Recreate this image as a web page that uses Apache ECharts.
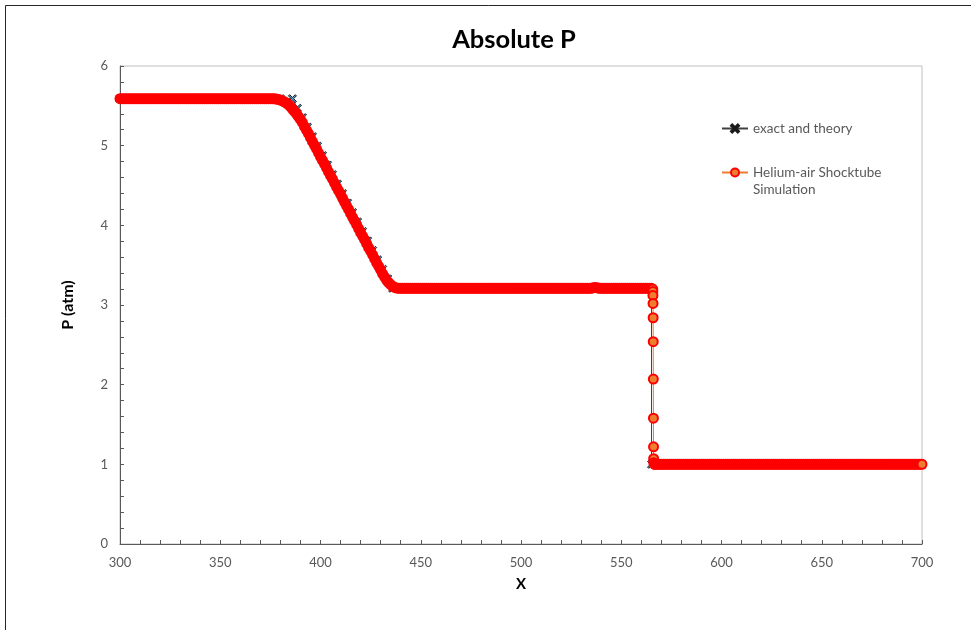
<!DOCTYPE html>
<html>
<head>
<meta charset="utf-8">
<script src="https://cdn.jsdelivr.net/npm/echarts@6/dist/echarts.min.js"></script>
<style>html,body{margin:0;padding:0;background:#fff;}#c{width:971px;height:630px;}</style>
</head>
<body>
<div id="c"></div>
<script>
const chartTitle = 'Absolute P';
const xName = 'X';
const yName = 'P (atm)';
const exactName = 'exact and theory';
const simName = 'Helium-air Shocktube Simulation';

// exact and theory: [X, P]
const exactData = [
[300,5.59],[310,5.59],[320,5.59],[330,5.59],[340,5.59],[350,5.59],[360,5.59],[370,5.59],[380,5.59],[386,5.59],
[388.5,5.471],[391,5.352],[393.5,5.233],[396,5.114],[398.5,4.995],[401,4.876],[403.5,4.757],[406,4.638],[408.5,4.519],[411,4.40],
[413.5,4.281],[416,4.162],[418.5,4.043],[421,3.924],[423.5,3.805],[426,3.686],[428.5,3.567],[431,3.448],[433.5,3.329],[436,3.21],
[445,3.21],[455,3.21],[465,3.21],[475,3.21],[485,3.21],[495,3.21],[505,3.21],[515,3.21],[525,3.21],[535,3.21],[545,3.21],[555,3.21],[565.1,3.21],
[565.1,1.0],[575,1.0],[585,1.0],[595,1.0],[605,1.0],[615,1.0],[625,1.0],[635,1.0],[645,1.0],[655,1.0],[665,1.0],[675,1.0],[685,1.0],[695,1.0],[700,1.0]
];

// Helium-air Shocktube Simulation: [X, P]
const simHigh = [
[300,5.59],[301,5.59],[302,5.59],[303,5.59],[304,5.59],[305,5.59],[306,5.59],[307,5.59],[308,5.59],[309,5.59],
[310,5.59],[311,5.59],[312,5.59],[313,5.59],[314,5.59],[315,5.59],[316,5.59],[317,5.59],[318,5.59],[319,5.59],
[320,5.59],[321,5.59],[322,5.59],[323,5.59],[324,5.59],[325,5.59],[326,5.59],[327,5.59],[328,5.59],[329,5.59],
[330,5.59],[331,5.59],[332,5.59],[333,5.59],[334,5.59],[335,5.59],[336,5.59],[337,5.59],[338,5.59],[339,5.59],
[340,5.59],[341,5.59],[342,5.59],[343,5.59],[344,5.59],[345,5.59],[346,5.59],[347,5.59],[348,5.59],[349,5.59],
[350,5.59],[351,5.59],[352,5.59],[353,5.59],[354,5.59],[355,5.59],[356,5.59],[357,5.59],[358,5.59],[359,5.59],
[360,5.59],[361,5.59],[362,5.59],[363,5.59],[364,5.59],[365,5.59],[366,5.59],[367,5.59],[368,5.59],[369,5.59],
[370,5.59],[371,5.59],[372,5.59],[373,5.59],[374,5.59],[375,5.59]
];
const simFan = [
[376,5.59],[377,5.588],[378,5.585],[379,5.58],[380,5.572],[381,5.562],[382,5.55],[383,5.535],[384,5.515],[385,5.49],
[386,5.46],[387,5.43],[388,5.40],[389,5.365],[390,5.33],[391,5.29],[392,5.24],[393,5.195],[394,5.15],[395,5.10],
[396,5.05],[397,5.005],[398,4.96],[399,4.91],[400,4.86],[401,4.815],[402,4.77],[403,4.72],[404,4.67],[405,4.625],
[406,4.58],[407,4.53],[408,4.48],[409,4.435],[410,4.39],[411,4.34],[412,4.29],[413,4.245],[414,4.20],[415,4.15],
[416,4.10],[417,4.055],[418,4.01],[419,3.96],[420,3.91],[421,3.865],[422,3.82],[423,3.77],[424,3.72],[425,3.675],
[426,3.63],[427,3.58],[428,3.53],[429,3.485],[430,3.44],[431,3.39],[432,3.35],[433,3.31],[434,3.28],[435,3.255],
[436,3.235],[437,3.22],[438,3.212]
];
const simMid = [
[439,3.21],[440,3.21],[441,3.21],[442,3.21],[443,3.21],[444,3.21],[445,3.21],[446,3.21],[447,3.21],
[448,3.21],[449,3.21],[450,3.21],[451,3.21],[452,3.21],[453,3.21],[454,3.21],[455,3.21],[456,3.21],[457,3.21],
[458,3.21],[459,3.21],[460,3.21],[461,3.21],[462,3.21],[463,3.21],[464,3.21],[465,3.21],[466,3.21],[467,3.21],
[468,3.21],[469,3.21],[470,3.21],[471,3.21],[472,3.21],[473,3.21],[474,3.21],[475,3.21],[476,3.21],[477,3.21],
[478,3.21],[479,3.21],[480,3.21],[481,3.21],[482,3.21],[483,3.21],[484,3.21],[485,3.21],[486,3.21],[487,3.21],
[488,3.21],[489,3.21],[490,3.21],[491,3.21],[492,3.21],[493,3.21],[494,3.21],[495,3.21],[496,3.21],[497,3.21],
[498,3.21],[499,3.21],[500,3.21],[501,3.21],[502,3.21],[503,3.21],[504,3.21],[505,3.21],[506,3.21],[507,3.21],
[508,3.21],[509,3.21],[510,3.21],[511,3.21],[512,3.21],[513,3.21],[514,3.21],[515,3.21],[516,3.21],[517,3.21],
[518,3.21],[519,3.21],[520,3.21],[521,3.21],[522,3.21],[523,3.21],[524,3.21],[525,3.21],[526,3.21],[527,3.21],
[528,3.21],[529,3.21],[530,3.21],[531,3.21],[532,3.21],[533,3.21],[534,3.21],[535,3.21],[536,3.215],[537,3.22],
[538,3.215],[539,3.21],[540,3.21],[541,3.21],[542,3.21],[543,3.21],[544,3.21],[545,3.21],[546,3.21],[547,3.21],
[548,3.21],[549,3.21],[550,3.21],[551,3.21],[552,3.21],[553,3.21],[554,3.21],[555,3.21],[556,3.21],[557,3.21],
[558,3.21],[559,3.21],[560,3.21],[561,3.21],[562,3.21],[563,3.21],[564,3.21],[565,3.21]
];
const simShock = [
[565.7,3.20],[565.75,3.17],[565.8,3.12],[565.85,3.02],[565.9,2.84],[565.95,2.54],[566,2.07],[566.05,1.58],[566.1,1.22],[566.15,1.07],[566.2,1.02]
];
const simLow = [
[566.6,1.0],[567,1.0],[568,1.0],[569,1.0],[570,1.0],[571,1.0],[572,1.0],[573,1.0],[574,1.0],[575,1.0],
[576,1.0],[577,1.0],[578,1.0],[579,1.0],[580,1.0],[581,1.0],[582,1.0],[583,1.0],[584,1.0],[585,1.0],
[586,1.0],[587,1.0],[588,1.0],[589,1.0],[590,1.0],[591,1.0],[592,1.0],[593,1.0],[594,1.0],[595,1.0],
[596,1.0],[597,1.0],[598,1.0],[599,1.0],[600,1.0],[601,1.0],[602,1.0],[603,1.0],[604,1.0],[605,1.0],
[606,1.0],[607,1.0],[608,1.0],[609,1.0],[610,1.0],[611,1.0],[612,1.0],[613,1.0],[614,1.0],[615,1.0],
[616,1.0],[617,1.0],[618,1.0],[619,1.0],[620,1.0],[621,1.0],[622,1.0],[623,1.0],[624,1.0],[625,1.0],
[626,1.0],[627,1.0],[628,1.0],[629,1.0],[630,1.0],[631,1.0],[632,1.0],[633,1.0],[634,1.0],[635,1.0],
[636,1.0],[637,1.0],[638,1.0],[639,1.0],[640,1.0],[641,1.0],[642,1.0],[643,1.0],[644,1.0],[645,1.0],
[646,1.0],[647,1.0],[648,1.0],[649,1.0],[650,1.0],[651,1.0],[652,1.0],[653,1.0],[654,1.0],[655,1.0],
[656,1.0],[657,1.0],[658,1.0],[659,1.0],[660,1.0],[661,1.0],[662,1.0],[663,1.0],[664,1.0],[665,1.0],
[666,1.0],[667,1.0],[668,1.0],[669,1.0],[670,1.0],[671,1.0],[672,1.0],[673,1.0],[674,1.0],[675,1.0],
[676,1.0],[677,1.0],[678,1.0],[679,1.0],[680,1.0],[681,1.0],[682,1.0],[683,1.0],[684,1.0],[685,1.0],
[686,1.0],[687,1.0],[688,1.0],[689,1.0],[690,1.0],[691,1.0],[692,1.0],[693,1.0],[694,1.0],[695,1.0],
[696,1.0],[697,1.0],[698,1.0],[699,1.0],[700,1.0]
];
const simData = simHigh.concat(simFan, simMid, simShock, simLow);
// indices whose markers stand apart (not buried in the dense band)
const shockStart = simHigh.length + simFan.length + simMid.length;
const shockEnd = shockStart + simShock.length;
const lastIdx = simData.length - 1;

const ORANGE = '#ED7D31';
const RED = '#FF0000';
const FONT = 'Lato, "Open Sans", sans-serif';
const xMark = 'path://M0,1.5 L1.5,0 L5,3.5 L8.5,0 L10,1.5 L6.5,5 L10,8.5 L8.5,10 L5,6.5 L1.5,10 L0,8.5 L3.5,5 Z';

const chart = echarts.init(document.getElementById('c'), null, {renderer: 'canvas'});
chart.setOption({
  animation: false,
  backgroundColor: '#ffffff',
  textStyle: {fontFamily: FONT},
  title: {
    text: chartTitle,
    left: 509,
    textAlign: 'center',
    top: 22,
    textStyle: {fontFamily: FONT, fontSize: 25.5, fontWeight: 'bold', color: '#000000'}
  },
  graphic: [{
    type: 'rect', silent: true, z: -1,
    shape: {x: 5.5, y: 5.5, width: 1000, height: 700},
    style: {fill: 'none', stroke: '#262626', lineWidth: 1}
  }],
  legend: {
    orient: 'vertical',
    left: 716,
    top: 115,
    itemWidth: 26,
    itemHeight: 10,
    itemGap: 10,
    data: [
      {name: exactName},
      {name: simName, itemStyle: {color: ORANGE, borderColor: RED, borderWidth: 2}}
    ],
    formatter: function (n) { return n === simName ? ' \nHelium-air Shocktube\nSimulation' : n; },
    textStyle: {fontFamily: FONT, fontSize: 13.5, color: '#595959', lineHeight: 17}
  },
  grid: {left: 120, right: 49, top: 66, bottom: 86, show: true, borderColor: '#bfbfbf', borderWidth: 1},
  xAxis: {
    type: 'value', min: 300, max: 700, interval: 50,
    name: xName, nameLocation: 'middle', nameGap: 33,
    nameTextStyle: {fontFamily: FONT, fontSize: 15, fontWeight: 'bold', color: '#000'},
    axisLine: {show: true, lineStyle: {color: '#595959', width: 1}},
    axisTick: {show: true, inside: true, length: 4, lineStyle: {color: '#595959'}},
    minorTick: {show: true, splitNumber: 5, length: 4, lineStyle: {color: '#595959'}},
    splitLine: {show: false},
    axisLabel: {color: '#595959', fontSize: 13, margin: 12, fontFamily: FONT}
  },
  yAxis: {
    type: 'value', min: 0, max: 6, interval: 1,
    name: yName, nameLocation: 'middle', nameGap: 44, nameRotate: 90,
    nameTextStyle: {fontFamily: FONT, fontSize: 16, fontWeight: 'bold', color: '#000'},
    axisLine: {show: true, lineStyle: {color: '#595959', width: 1}},
    axisTick: {show: true, inside: true, length: 4, lineStyle: {color: '#595959'}},
    minorTick: {show: true, splitNumber: 5, length: 4, lineStyle: {color: '#595959'}},
    splitLine: {show: false},
    axisLabel: {color: '#595959', fontSize: 13, margin: 12, fontFamily: FONT}
  },
  series: [
    {
      name: exactName, type: 'line', data: exactData,
      symbol: xMark, symbolSize: 8, showSymbol: true, showAllSymbol: true,
      lineStyle: {color: '#404040', width: 1},
      itemStyle: {color: '#5B9BD5', borderColor: '#1a1a1a', borderWidth: 1},
      z: 2
    },
    {
      name: simName, type: 'line', data: simData,
      symbol: 'circle', symbolSize: 9, showSymbol: true, showAllSymbol: true,
      lineStyle: {color: ORANGE, width: 1},
      itemStyle: {
        color: function (p) {
          return (p.dataIndex >= shockStart && p.dataIndex < shockEnd) || p.dataIndex === lastIdx ? ORANGE : RED;
        },
        borderColor: RED, borderWidth: 2
      },
      z: 3
    }
  ]
});
</script>
</body>
</html>
